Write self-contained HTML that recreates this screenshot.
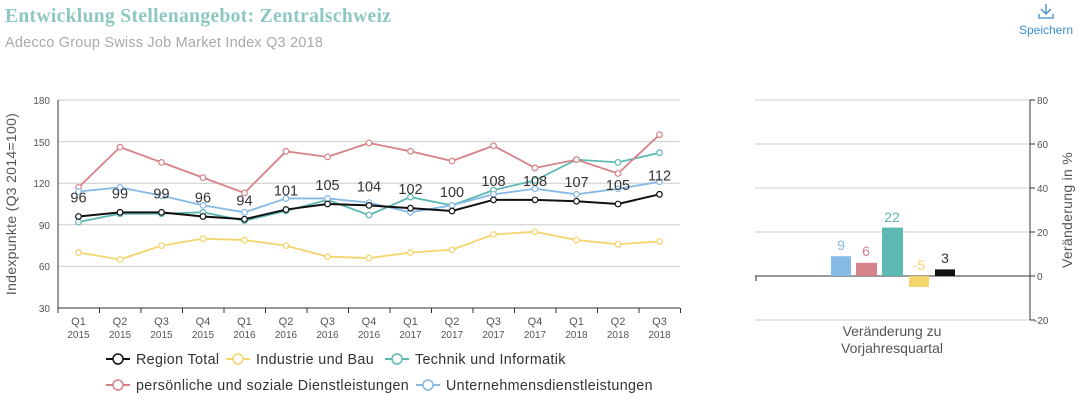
<!DOCTYPE html>
<html><head><meta charset="utf-8"><style>
body{margin:0;background:#fff;font-family:"Liberation Sans",sans-serif;}
</style></head><body>
<svg width="1080" height="400" xmlns="http://www.w3.org/2000/svg" font-family="Liberation Sans, sans-serif">
<text x="5" y="22" font-family="Liberation Serif, serif" font-weight="bold" font-size="19.5" letter-spacing="0.35" fill="#8cc8c1">Entwicklung Stellenangebot: Zentralschweiz</text>
<text x="5" y="47" font-size="14.5" letter-spacing="0.2" fill="#aaa">Adecco Group Swiss Job Market Index Q3 2018</text>
<g stroke="#3a8fd0" stroke-width="1.3" fill="none"><path d="M1046 4v10M1041 9l5 5 5-5M1039 14v4h14v-4"/></g>
<text x="1046" y="34" font-size="12" fill="#3a8fd0" text-anchor="middle">Speichern</text>
<g stroke="#ccc" stroke-width="1">
<line x1="58" x2="680" y1="100" y2="100"/><line x1="58" x2="680" y1="141.6" y2="141.6"/><line x1="58" x2="680" y1="183.2" y2="183.2"/><line x1="58" x2="680" y1="224.8" y2="224.8"/><line x1="58" x2="680" y1="266.4" y2="266.4"/>
<line x1="755" x2="1030" y1="100" y2="100"/><line x1="755" x2="1030" y1="144" y2="144"/><line x1="755" x2="1030" y1="188" y2="188"/><line x1="755" x2="1030" y1="232" y2="232"/><line x1="755" x2="1030" y1="320" y2="320"/>
</g>
<g stroke="#333" stroke-width="1"><line x1="58" x2="58" y1="100" y2="308"/><line x1="58" x2="680" y1="308" y2="308"/>
<line x1="1030" x2="1030" y1="100" y2="320"/><line x1="755" x2="1030" y1="276" y2="276"/><line x1="756" x2="756" y1="276" y2="281"/></g>
<g font-size="10" fill="#555" text-anchor="end">
<text x="50" y="104">180</text><text x="50" y="146">150</text><text x="50" y="187">120</text><text x="50" y="229">90</text><text x="50" y="270">60</text><text x="50" y="312">30</text></g>
<g font-size="10" fill="#555"><text x="1037" y="104">80</text><text x="1037" y="148">60</text><text x="1037" y="192">40</text><text x="1037" y="236">20</text><text x="1037" y="280">0</text><text x="1034" y="324">-20</text>
<line x1="1030" x2="1035" y1="100" y2="100" stroke="#333"/><line x1="1030" x2="1035" y1="144" y2="144" stroke="#333"/><line x1="1030" x2="1035" y1="188" y2="188" stroke="#333"/><line x1="1030" x2="1035" y1="232" y2="232" stroke="#333"/><line x1="1030" x2="1035" y1="276" y2="276" stroke="#333"/><line x1="1030" x2="1035" y1="320" y2="320" stroke="#333"/></g>
<text transform="translate(16,204) rotate(-90)" font-size="14" letter-spacing="0.3" fill="#555" text-anchor="middle">Indexpunkte (Q3 2014=100)</text>
<text transform="translate(1072,210) rotate(-90)" font-size="14" letter-spacing="0.3" fill="#555" text-anchor="middle">Veränderung in %</text>
<text x="892" y="336" font-size="14" fill="#555" text-anchor="middle">Veränderung zu</text>
<text x="892" y="353" font-size="14" fill="#555" text-anchor="middle">Vorjahresquartal</text>
<g id="xa"></g>
<rect x="831" y="256.2" width="20" height="19.8" fill="#85b9e6"/>
<rect x="856" y="262.8" width="21" height="13.2" fill="#d6828a"/>
<rect x="882" y="227.6" width="21" height="48.4" fill="#5db8b1"/>
<rect x="909" y="276" width="20" height="11" fill="#f4d46c"/>
<rect x="935" y="269.4" width="20" height="6.6" fill="#111"/>
<g font-size="14" text-anchor="middle"><text x="841" y="250" fill="#85b9e6">9</text><text x="866" y="256" fill="#d6828a">6</text><text x="892" y="222" fill="#5db8b1">22</text><text x="919" y="270" fill="#f4d46c">-5</text><text x="945" y="263" fill="#333">3</text></g>
<g id="lines"></g>
<g font-size="14.3" letter-spacing="0.35" fill="#333">
<line x1="106" x2="130" y1="359" y2="359" stroke="#111" stroke-width="2"/><circle cx="118" cy="359" r="5" fill="#fff" stroke="#111" stroke-width="1.5"/><text x="136" y="364">Region Total</text>
<line x1="226" x2="250" y1="359" y2="359" stroke="#f4d46c" stroke-width="2"/><circle cx="238" cy="359" r="5" fill="#fff" stroke="#f4d46c" stroke-width="1.5"/><text x="256" y="364">Industrie und Bau</text>
<line x1="385" x2="409" y1="359" y2="359" stroke="#5db8b1" stroke-width="2"/><circle cx="397" cy="359" r="5" fill="#fff" stroke="#5db8b1" stroke-width="1.5"/><text x="415" y="364">Technik und Informatik</text>
<line x1="106" x2="130" y1="385" y2="385" stroke="#d6828a" stroke-width="2"/><circle cx="118" cy="385" r="5" fill="#fff" stroke="#d6828a" stroke-width="1.5"/><text x="136" y="390">persönliche und soziale Dienstleistungen</text>
<line x1="416" x2="440" y1="385" y2="385" stroke="#85b9e6" stroke-width="2"/><circle cx="428" cy="385" r="5" fill="#fff" stroke="#85b9e6" stroke-width="1.5"/><text x="446" y="390">Unternehmensdienstleistungen</text>
</g>
</svg>
<script>
const ns="http://www.w3.org/2000/svg",svg=document.querySelector("svg");
function el(t,a,p){const e=document.createElementNS(ns,t);for(const k in a)e.setAttribute(k,a[k]);(p||svg).appendChild(e);return e;}
const X=i=>78.5+i*41.5,Y=v=>100+(180-v)*1.3867;
const xa=document.getElementById("xa");
const q=["Q1","Q2","Q3","Q4","Q1","Q2","Q3","Q4","Q1","Q2","Q3","Q4","Q1","Q2","Q3"],yr=[2015,2015,2015,2015,2016,2016,2016,2016,2017,2017,2017,2017,2018,2018,2018];
for(let i=0;i<=15;i++)el("line",{x1:58+i*41.5,x2:58+i*41.5,y1:308,y2:313,stroke:"#333"},xa);
for(let i=0;i<15;i++){const t=el("text",{x:X(i),y:325,"font-size":"11",fill:"#555","text-anchor":"middle"},xa);t.textContent=q[i];const t2=el("text",{x:X(i),y:338,"font-size":"10",fill:"#555","text-anchor":"middle"},xa);t2.textContent=yr[i];}
const L=document.getElementById("lines");
const S=[["#f4d46c",[70,65,75,80,79,75,67,66,70,72,83,85,79,76,78]],
["#5db8b1",[92,98,98,99,93,100,108,97,110,104,115,122,137,135,142]],
["#d6828a",[117,146,135,124,113,143,139,149,143,136,147,131,137,127,155]],
["#85b9e6",[114,117,111,104,99,109,109,106,99,104,112,116,112,116,121]],
["#111",[96,99,99,96,94,101,105,104,102,100,108,108,107,105,112]]];
S.forEach(([c,d],k)=>{el("polyline",{points:d.map((v,i)=>X(i)+","+Y(v)).join(" "),fill:"none",stroke:c,"stroke-width":k==4?2:1.8},L);
d.forEach((v,i)=>el("circle",{cx:X(i),cy:Y(v),r:2.8,fill:"#fff",stroke:c,"stroke-width":1.2},L));
if(k==4)d.forEach((v,i)=>{const t=el("text",{x:X(i),y:Y(v)-14,"font-size":"14.5",fill:"#333","text-anchor":"middle"},L);t.textContent=v;});});
</script>
</body></html>
